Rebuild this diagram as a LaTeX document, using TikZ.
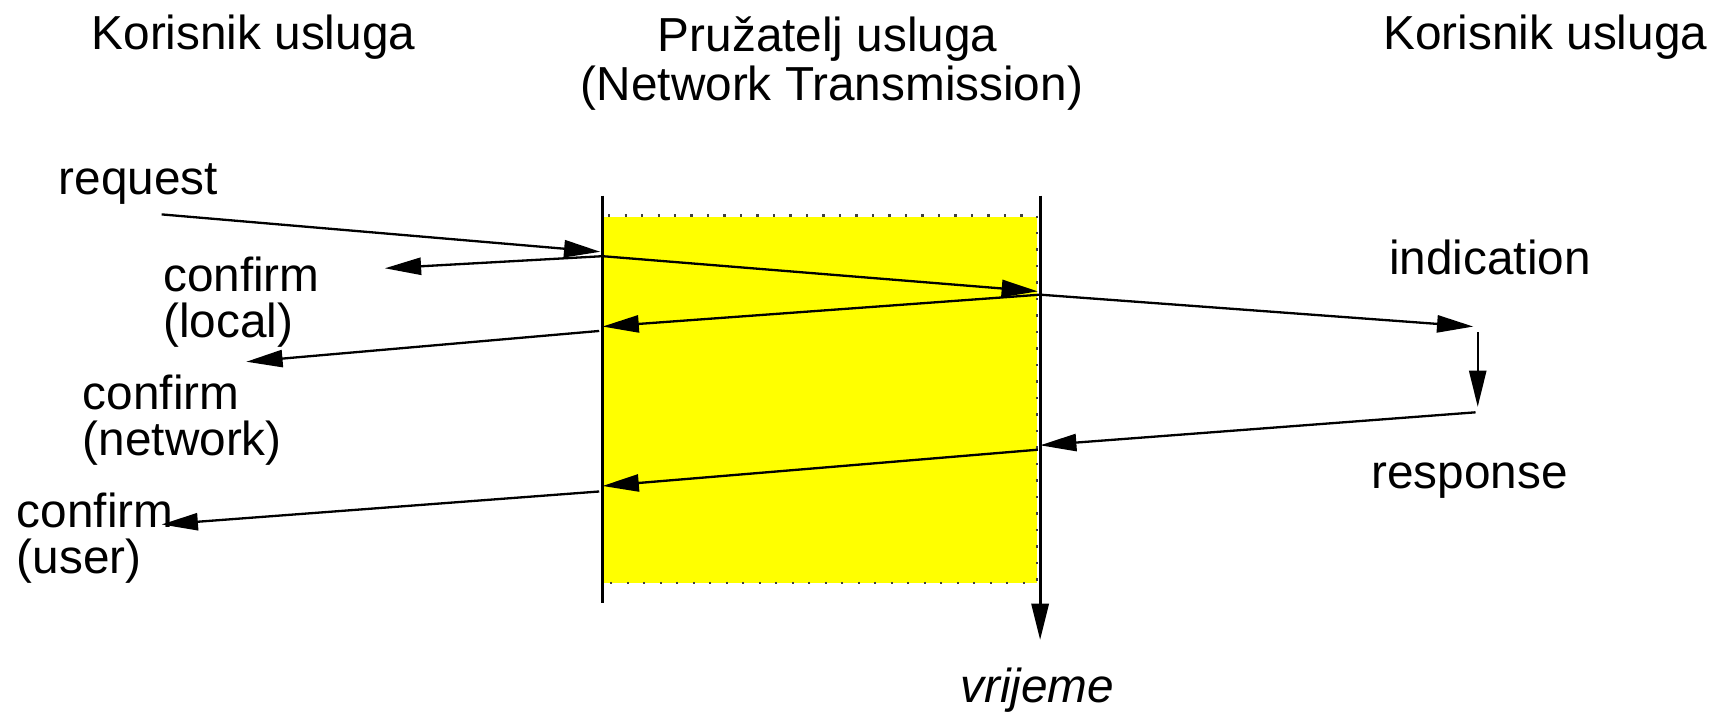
\documentclass[tikz,border=0pt]{standalone}
\usepackage{fontspec}
\setmainfont{Liberation Sans}
\usetikzlibrary{arrows.meta}
\definecolor{srvyellow}{RGB}{255,255,0}
\begin{document}
\begin{tikzpicture}[x=0.5pt,y=-0.5pt,
  lbl/.style={inner sep=0pt, anchor=base west, font=\fontsize{21.7}{26}\selectfont},
  msg/.style={line width=1.05pt, -{Triangle[length=16.5pt,width=7.8pt]}},
  life/.style={line width=1.25pt},
  dotline/.style={draw=black!75, line width=1pt, dash pattern=on 1pt off 6.5pt}]
\useasboundingbox (0,0) rectangle (1568,649);
% yellow service area
\fill[srvyellow] (549,197) rectangle (943,530);
\draw[dotline] (553,196) -- (943,196) -- (943,530) -- (553,530);
% coordinates
\coordinate (lt) at (548,178);
\coordinate (lb) at (548,548);
\coordinate (rt) at (946,178);
\coordinate (ra) at (946,582);
\coordinate (rq) at (147,195);
\coordinate (L1) at (546,229);
\coordinate (L2) at (548,233);
\coordinate (cl) at (350,244);
\coordinate (R1) at (944,265);
\coordinate (R2) at (946,268);
\coordinate (L3) at (548,297);
\coordinate (L4) at (545,301);
\coordinate (cn) at (224,329);
\coordinate (i1) at (1340,297);
\coordinate (i2) at (1344,302);
\coordinate (r1) at (1344,370);
\coordinate (r2) at (1342,375);
\coordinate (R3) at (946,405);
\coordinate (R4) at (944,409);
\coordinate (L5) at (548,442);
\coordinate (L6) at (545,447);
\coordinate (cu) at (147,477);
% lifelines
\draw[life] (lt) -- (lb);
\draw[life, -{Triangle[length=16.5pt,width=7.8pt]}] (rt) -- (ra);
% messages
\draw[msg] (rq) -- (L1);
\draw[msg] (L2) -- (cl);
\draw[msg] (L2) -- (R1);
\draw[msg] (R2) -- (i1);
\draw[msg] (R2) -- (L3);
\draw[msg] (L4) -- (cn);
\draw[msg] (i2) -- (r1);
\draw[msg] (r2) -- (R3);
\draw[msg] (R4) -- (L5);
\draw[msg] (L6) -- (cu);
% labels
\node[lbl] (ku1) at (83,45) {Korisnik usluga};
\node[lbl] (pu1) at (598,47) {Pružatelj usluga};
\node[lbl] (pu2) at (528,91) {(Network Transmission)};
\node[lbl] (ku2) at (1258,45) {Korisnik usluga};
\node[lbl] (req) at (53,177) {request};
\node[lbl] (cf1) at (148,265) {confirm};
\node[lbl] (cf1b) at (148,307) {(local)};
\node[lbl] (cf2) at (75,372) {confirm};
\node[lbl] (cf2b) at (75,414) {(network)};
\node[lbl] (cf3) at (15,480) {confirm};
\node[lbl] (cf3b) at (15,522) {(user)};
\node[lbl] (ind) at (1263,250) {indication};
\node[lbl] (rsp) at (1247,444) {response};
\node[lbl, font=\fontsize{21.7}{26}\selectfont\itshape] (vr) at (873,639) {vrijeme};
\end{tikzpicture}
\end{document}
